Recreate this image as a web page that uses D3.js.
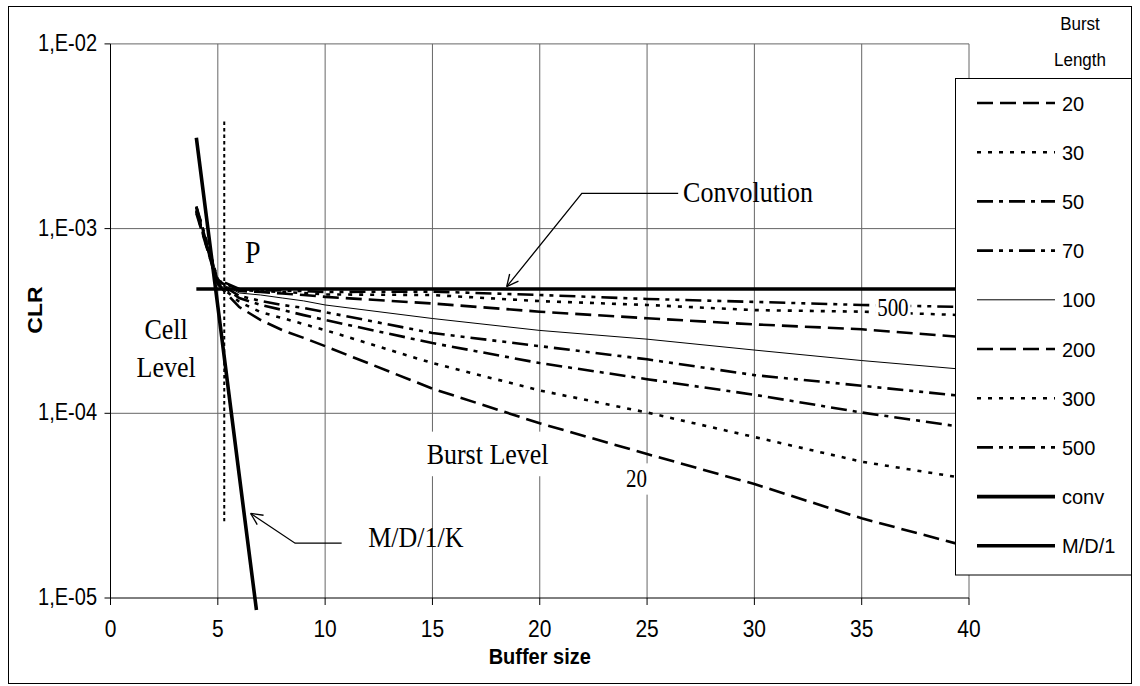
<!DOCTYPE html>
<html><head><meta charset="utf-8">
<script src="https://cdn.jsdelivr.net/npm/d3@7"></script>
<style>body{margin:0;background:#fff}</style>
</head><body>
<svg id="c" width="1140" height="686"></svg>
<script>
// ---------------- data ----------------
const bufferSize = [4,5,6,7,8,9,10,15,20,25,30,35,40];
const burstLengths = ["20","30","50","70","100","200","300","500"];
const clr20  = [1.21e-3,5.00e-4,3.76e-4,3.20e-4,2.82e-4,2.56e-4,2.31e-4,1.36e-4,8.83e-5,6.02e-5,4.14e-5,2.70e-5,1.89e-5];
const clr30  = [1.23e-3,5.00e-4,4.01e-4,3.53e-4,3.28e-4,3.04e-4,2.82e-4,1.87e-4,1.33e-4,1.01e-4,7.44e-5,5.47e-5,4.41e-5];
const clr50  = [1.25e-3,5.05e-4,4.21e-4,3.86e-4,3.63e-4,3.40e-4,3.20e-4,2.40e-4,1.87e-4,1.53e-4,1.26e-4,1.01e-4,8.33e-5];
const clr70  = [1.26e-3,5.10e-4,4.32e-4,4.06e-4,3.86e-4,3.72e-4,3.53e-4,2.72e-4,2.31e-4,1.96e-4,1.61e-4,1.41e-4,1.23e-4];
const clr100 = [1.28e-3,5.15e-4,4.48e-4,4.37e-4,4.21e-4,4.06e-4,3.86e-4,3.26e-4,2.81e-4,2.52e-4,2.20e-4,1.93e-4,1.72e-4];
const clr200 = [1.30e-3,5.20e-4,4.59e-4,4.54e-4,4.45e-4,4.37e-4,4.27e-4,3.93e-4,3.55e-4,3.27e-4,3.03e-4,2.85e-4,2.57e-4];
const clr300 = [1.31e-3,5.25e-4,4.65e-4,4.59e-4,4.54e-4,4.48e-4,4.40e-4,4.37e-4,4.05e-4,3.86e-4,3.62e-4,3.55e-4,3.39e-4];
const clr500 = [1.32e-3,5.30e-4,4.71e-4,4.65e-4,4.62e-4,4.59e-4,4.54e-4,4.56e-4,4.37e-4,4.16e-4,4.01e-4,3.86e-4,3.76e-4];
const convBuffer = [4, 40];
const convCLR = [4.71e-4, 4.71e-4];
const md1Buffer = [4, 5, 6, 6.8];
const md1CLR = [3.1e-3, 3.8e-4, 4.6e-5, 8.6e-6];
const xTicks = [0,5,10,15,20,25,30,35,40];
const yTicks = [1e-5,1e-4,1e-3,1e-2];
const yTickLabels = ["1,E-05","1,E-04","1,E-03","1,E-02"];
const legendLabels = ["20","30","50","70","100","200","300","500","conv","M/D/1"];

// ---------------- layout / style ----------------
const svg = d3.select("#c");
const L = 110.5, R = 969, T = 43.9, B = 598;
const x = d3.scaleLinear().domain([0,40]).range([L,R]);
const y = d3.scaleLog().domain([1e-5,1e-2]).range([B,T]);
const SANS = "'Liberation Sans', Arial, sans-serif";
const SERIF = "'Liberation Serif', 'Times New Roman', serif";
const SY = 1.15;
const styles = {
  "20":  {dash:"16,7", w:2.6},
  "30":  {dash:"4,7", w:2.6},
  "50":  {dash:"16,6,4,6", w:2.6},
  "70":  {dash:"16,6,4,6,4,6", w:2.6},
  "100": {dash:null, w:1},
  "200": {dash:"16,7", w:2.6},
  "300": {dash:"4,7", w:2.6},
  "500": {dash:"16,6,4,6,4,6", w:2.6},
  "conv":{dash:null, w:3.6},
  "M/D/1":{dash:null, w:3.6}
};
const seriesValues = [clr20,clr30,clr50,clr70,clr100,clr200,clr300,clr500];

function txt(g, px, py, s, o) {
  o = o || {};
  const tr = `translate(${px},${py}) scale(1,${o.sy || SY})`;
  const t = g.append("text").attr("transform", tr)
    .attr("font-family", o.family || SANS).attr("font-size", o.size || 20)
    .attr("font-weight", o.weight || "normal")
    .attr("text-anchor", o.anchor || "start").attr("fill", "#000").text(s);
  if (o.bg) {
    const b = t.node().getBBox();
    const p = o.pad || 3;
    g.insert("rect", () => t.node()).attr("transform", tr)
      .attr("x", b.x - p).attr("y", b.y - p).attr("width", b.width + 2*p).attr("height", b.height + 2*p)
      .attr("fill", "#fff");
  }
  return t;
}

// outer frame
svg.append("rect").attr("x",8.5).attr("y",6.5).attr("width",1123).attr("height",677)
  .attr("fill","#fff").attr("stroke","#000").attr("stroke-width",1);

// gridlines
const grid = svg.append("g").attr("stroke","#666").attr("stroke-width",1);
xTicks.filter(v => v > 0 && v < 40).forEach(v =>
  grid.append("line").attr("x1",x(v)).attr("x2",x(v)).attr("y1",T).attr("y2",B));
yTicks.filter(v => v > 1e-5 && v < 1e-2).forEach(v =>
  grid.append("line").attr("x1",L).attr("x2",R).attr("y1",y(v)).attr("y2",y(v)));
grid.append("line").attr("x1",L).attr("x2",R).attr("y1",T).attr("y2",T);
grid.append("line").attr("x1",R).attr("x2",R).attr("y1",T).attr("y2",B);

// series
const line = d3.line().x(d => x(d[0])).y(d => y(d[1]));
const plot = svg.append("g");
burstLengths.forEach((k, i) => {
  const pts = bufferSize.map((b, j) => [b, seriesValues[i][j]]);
  plot.append("path").attr("d", line(pts)).attr("fill","none").attr("stroke","#000")
    .attr("stroke-width", styles[k].w).attr("stroke-dasharray", styles[k].dash);
});
plot.append("path").attr("d", line(convBuffer.map((b,j)=>[b,convCLR[j]])))
  .attr("fill","none").attr("stroke","#000").attr("stroke-width",styles.conv.w);
plot.append("path").attr("d", line(md1Buffer.map((b,j)=>[b,md1CLR[j]])))
  .attr("fill","none").attr("stroke","#000").attr("stroke-width",styles["M/D/1"].w);

// vertical dotted marker line at P
const pLine = {b:5.3, top:3.8e-3, bottom:2.6e-5};
plot.append("line").attr("x1",x(pLine.b)).attr("x2",x(pLine.b)).attr("y1",y(pLine.top)).attr("y2",y(pLine.bottom))
  .attr("stroke","#000").attr("stroke-width",2).attr("stroke-dasharray","3.5,3");

// annotations
const ann = svg.append("g");
function arrow(pts) {
  ann.append("path").attr("d", d3.line()(pts.map(p => [x(p[0]), y(p[1])])))
    .attr("fill","none").attr("stroke","#000").attr("stroke-width",1.3);
  const n = pts.length;
  const tip = [x(pts[n-1][0]), y(pts[n-1][1])], prev = [x(pts[n-2][0]), y(pts[n-2][1])];
  const a = Math.atan2(prev[1]-tip[1], prev[0]-tip[0]);
  const len = 13, sp = 0.45;
  [a-sp, a+sp].forEach(aa => ann.append("line").attr("x1",tip[0]).attr("y1",tip[1])
    .attr("x2",tip[0]+len*Math.cos(aa)).attr("y2",tip[1]+len*Math.sin(aa))
    .attr("stroke","#000").attr("stroke-width",1.3));
}
arrow([[26.45,1.55e-3],[21.96,1.55e-3],[18.46,4.85e-4]]);
arrow([[10.77,1.98e-5],[8.6,1.98e-5],[6.53,2.87e-5]]);

txt(ann, x(26.68), y(1.40e-3), "Convolution", {family:SERIF, size:26});
txt(ann, x(12.01), y(1.90e-5), "M/D/1/K", {family:SERIF, size:26});
txt(ann, x(14.73), y(5.31e-5), "Burst Level", {family:SERIF, size:26, bg:true, pad:5});
txt(ann, x(6.27), y(6.49e-4), "P", {family:SERIF, size:28});
txt(ann, x(2.59), y(2.53e-4), "Cell", {family:SERIF, size:26, anchor:"middle"});
txt(ann, x(2.59), y(1.58e-4), "Level", {family:SERIF, size:26, anchor:"middle"});
txt(ann, x(25.0), y(3.99e-5), "20", {family:SERIF, size:21, anchor:"end", bg:true, pad:2});
txt(ann, x(35.72), y(3.36e-4), "500", {family:SERIF, size:21, bg:true, pad:2});

// axes
const ax = svg.append("g").attr("stroke","#000").attr("stroke-width",1);
ax.append("line").attr("x1",L).attr("x2",L).attr("y1",T).attr("y2",B);
ax.append("line").attr("x1",L).attr("x2",R).attr("y1",B).attr("y2",B);
yTicks.forEach(v => ax.append("line").attr("x1",L-6).attr("x2",L).attr("y1",y(v)).attr("y2",y(v)));
xTicks.forEach(v => ax.append("line").attr("x1",x(v)).attr("x2",x(v)).attr("y1",B).attr("y2",B+7));
const lab = svg.append("g");
yTicks.forEach((v,i) => txt(lab, 97, y(v)+7, yTickLabels[i], {size:20, anchor:"end"}));
xTicks.forEach(v => txt(lab, x(v), 637, String(v), {size:21, anchor:"middle"}));
txt(lab, x(20), 664, "Buffer size", {size:20, weight:"bold", anchor:"middle", sy:1.1});
lab.append("text").attr("transform","translate(42,310) rotate(-90) scale(1.15,1)")
  .attr("font-family",SANS).attr("font-size",20).attr("font-weight","bold")
  .attr("text-anchor","middle").text("CLR");

// legend
const lg = svg.append("g");
lg.append("rect").attr("x",955.5).attr("y",78.5).attr("width",176).attr("height",496.5)
  .attr("fill","#fff").attr("stroke","#000").attr("stroke-width",1);
legendLabels.forEach((k,i) => {
  const yy = 103 + i*49.2;
  lg.append("line").attr("x1",977).attr("x2",1055).attr("y1",yy).attr("y2",yy)
    .attr("stroke","#000").attr("stroke-width",styles[k].w).attr("stroke-dasharray",styles[k].dash);
  txt(lg, 1062, yy+7.5, k, {size:20, sy:1.05});
});
txt(lg, 1080, 30, "Burst", {size:17, anchor:"middle", sy:1.05});
txt(lg, 1080, 66, "Length", {size:17, anchor:"middle", sy:1.05});
</script>
</body></html>
